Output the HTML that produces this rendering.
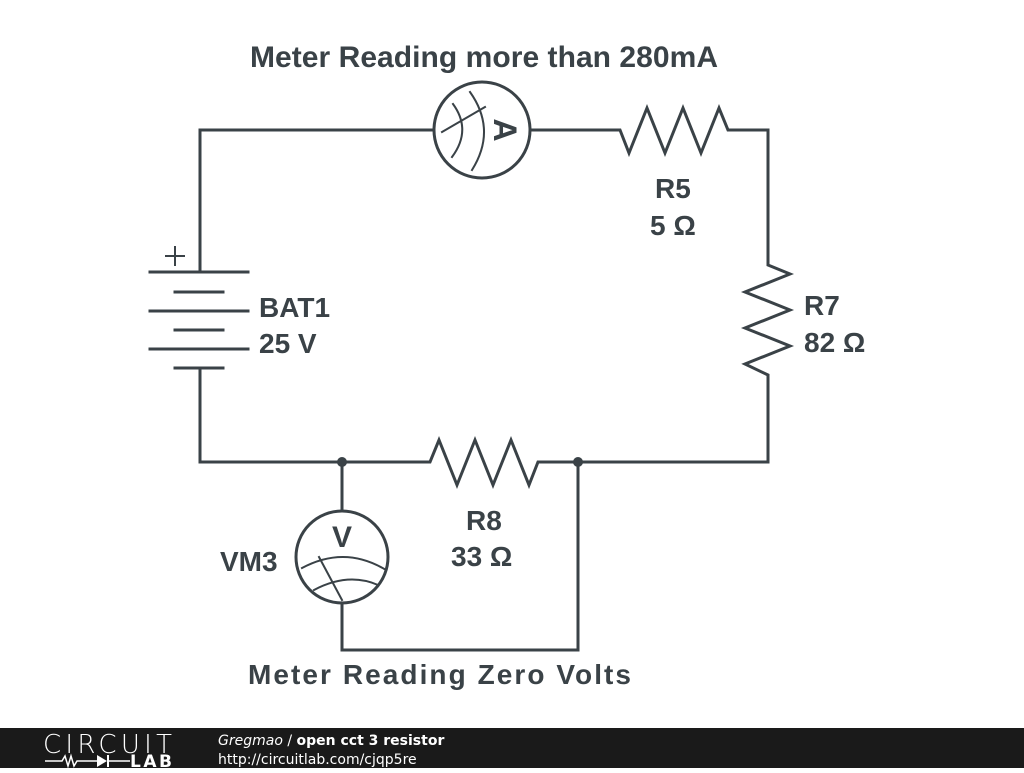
<!DOCTYPE html>
<html><head><style>
body{margin:0;width:1024px;height:768px;background:#fff;overflow:hidden;font-family:"Liberation Sans",sans-serif}
</style></head><body>
<svg width="1024" height="768" viewBox="0 0 1024 768" xmlns="http://www.w3.org/2000/svg">
<g stroke="#3a4247" stroke-width="3" fill="none" stroke-linecap="square">
<polyline points="200,272 200,130 433,130"/>
<polyline points="531,130 620,130 629,153 647,108 665,153 683,108 701,153 719,108 728,130 768,130 768,265 790,274 745,292 790,310 745,328 790,346 745,364 768,375 768,462 538,462 529,485 511,440 493,485 475,440 457,485 439,440 430,462 200,462 200,368"/>
<polyline points="342,462 342,511"/>
<polyline points="342,603 342,650 578,650 578,462"/>
<line x1="150" y1="272" x2="248" y2="272"/>
<line x1="175" y1="292" x2="223" y2="292"/>
<line x1="150" y1="311" x2="248" y2="311"/>
<line x1="175" y1="330" x2="223" y2="330"/>
<line x1="150" y1="349" x2="248" y2="349"/>
<line x1="175" y1="368" x2="223" y2="368"/>
<line x1="166" y1="256" x2="184" y2="256" stroke-width="2"/>
<line x1="175" y1="247" x2="175" y2="265" stroke-width="2"/>
<circle cx="482" cy="130" r="48"/>
<circle cx="342" cy="557" r="46"/>
<g stroke-width="2">
<path d="M453,104 Q472,130 452,157"/>
<path d="M470,92 Q497,130 472,170"/>
<line x1="442" y1="132" x2="485" y2="107"/>
<path d="M302,568 Q345,545 386,570"/>
<path d="M314,590 Q348,572 378,585"/>
<line x1="319" y1="557" x2="342" y2="600"/>
</g>
</g>
<circle cx="342" cy="462" r="5" fill="#3a4247"/>
<circle cx="578" cy="462" r="5" fill="#3a4247"/>
<g fill="#3a4247" font-weight="bold" font-size="28" font-family="Liberation Sans, sans-serif">
<text x="250" y="67" font-size="30" textLength="468" lengthAdjust="spacing">Meter Reading more than 280mA</text>
<text x="655" y="198">R5</text>
<text x="650" y="235">5 Ω</text>
<text x="804" y="315">R7</text>
<text x="804" y="352">82 Ω</text>
<text x="259" y="317">BAT1</text>
<text x="259" y="353">25 V</text>
<text x="466" y="530">R8</text>
<text x="451" y="566">33 Ω</text>
<text x="220" y="571">VM3</text>
<text x="248" y="684" textLength="383" lengthAdjust="spacing">Meter Reading Zero Volts</text>
<text x="342" y="547" text-anchor="middle" font-size="30">V</text>
<text x="505" y="130" text-anchor="middle" font-size="32" transform="rotate(90 505 130)" dy="11">A</text>
</g>
<rect x="0" y="728" width="1024" height="40" fill="#1a1a1a"/>
<text x="43" y="753" fill="#fff" font-size="26" font-family="DejaVu Sans" font-weight="300" textLength="129">CIRCUIT</text>
<polyline points="45,761 62,761 65,756 68,766 71,756 74,766 77,761 97,761" stroke="#fff" stroke-width="1.5" fill="none"/>
<polygon points="97,755 97,767 107,761" fill="#fff"/>
<line x1="108" y1="755" x2="108" y2="767" stroke="#fff" stroke-width="2"/>
<line x1="108" y1="761" x2="130" y2="761" stroke="#fff" stroke-width="1.5"/>
<text x="130" y="767" fill="#fff" font-size="17" font-weight="bold" font-family="DejaVu Sans" textLength="42">LAB</text>
<text x="218" y="745" fill="#fff" font-size="14" font-family="DejaVu Sans"><tspan font-style="italic">Gregmao</tspan> / <tspan font-weight="bold">open cct 3 resistor</tspan></text>
<text x="218" y="764" fill="#fff" font-size="14" font-family="DejaVu Sans">http://circuitlab.com/cjqp5re</text>
</svg>
</body></html>
